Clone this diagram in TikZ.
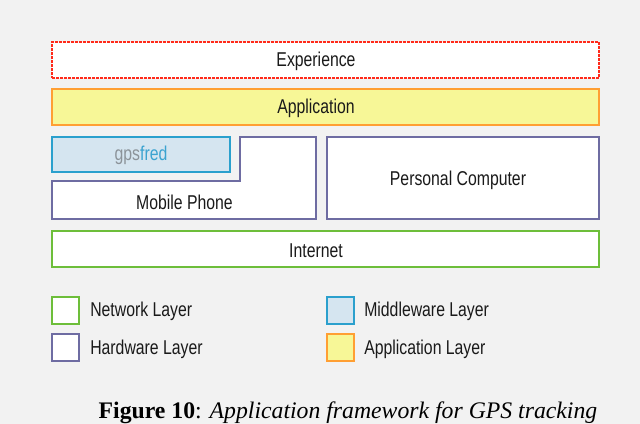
\documentclass[tikz,border=0pt]{standalone}
\usepackage{fontspec}
\setmainfont{Liberation Serif}
\newfontfamily\labfont[FakeStretch=0.79]{Liberation Sans}
\definecolor{bgc}{HTML}{F2F2F2}
\definecolor{expred}{HTML}{FF2A1A}
\definecolor{appfill}{HTML}{F7F797}
\definecolor{appline}{HTML}{FF9F33}
\definecolor{hwline}{HTML}{6E6CA2}
\definecolor{mwfill}{HTML}{D5E5F0}
\definecolor{mwline}{HTML}{2BA0CD}
\definecolor{netline}{HTML}{6DBE3A}
\definecolor{gpsgray}{HTML}{8C9399}
\definecolor{fredblue}{HTML}{3BA3D0}
\definecolor{txt}{HTML}{1A1A1A}
\tikzset{
  box/.style={draw, line width=1.5pt, inner sep=0pt},
  expbox/.style={box, draw=expred, fill=white, dash pattern=on 2.2pt off 0.8pt},
  appbox/.style={box, draw=appline, fill=appfill},
  hwbox/.style={box, draw=hwline, fill=white},
  mwbox/.style={box, draw=mwline, fill=mwfill},
  netbox/.style={box, draw=netline, fill=white},
  lab/.style={font=\labfont\fontsize{15}{18}\selectfont, text=txt, inner sep=0pt, anchor=base},
  leglab/.style={lab, anchor=base west},
  legsq/.style={minimum width=20.25pt, minimum height=20.25pt},
}
\begin{document}
\begin{tikzpicture}[x=0.75pt,y=-0.75pt]
\fill[bgc] (0,0) rectangle (640,424);
\useasboundingbox (0,0) rectangle (640,424);
% boxes
\node[expbox, minimum width=410.25pt, minimum height=27pt] (exp) at (325.5,60) {};
\node[lab] (expt) at (316,67) {Experience};
\node[appbox, minimum width=410.25pt, minimum height=27pt] (app) at (325.5,107) {};
\node[lab] (appt) at (316,114) {Application};
\draw[hwline, line width=1.5pt, fill=white] (52,181) -- (240,181) -- (240,137) -- (316,137) -- (316,219) -- (52,219) -- cycle;
\node[lab] (mob) at (184.5,210) {Mobile Phone};
\node[mwbox, minimum width=133.5pt, minimum height=26.25pt] (gps) at (141,154.5) {};
\node[lab] (gpst) at (141,161) {\textcolor{gpsgray}{gps}\textcolor{fredblue}{fred}};
\node[hwbox, minimum width=204pt, minimum height=61.5pt] (pc) at (463,178) {};
\node[lab] (pct) at (458,186) {Personal Computer};
\node[netbox, minimum width=410.25pt, minimum height=27pt] (net) at (325.5,249) {};
\node[lab] (nett) at (316,258) {Internet};
% legend
\node[netbox, legsq] (l1) at (65.5,310.5) {};
\node[leglab] (l1t) at (90,317) {Network Layer};
\node[hwbox, legsq] (l2) at (65.5,348) {};
\node[leglab] (l2t) at (90,355) {Hardware Layer};
\node[mwbox, legsq] (l3) at (340,310.5) {};
\node[leglab] (l3t) at (364,317) {Middleware Layer};
\node[appbox, legsq] (l4) at (340,348) {};
\node[leglab] (l4t) at (364,355) {Application Layer};
% caption
\node[anchor=base, inner sep=0pt, font=\fontsize{17.8}{20}\selectfont] (cap) at (348,418) {\textbf{Figure 10}: \textit{Application framework for GPS tracking}};
\end{tikzpicture}
\end{document}
